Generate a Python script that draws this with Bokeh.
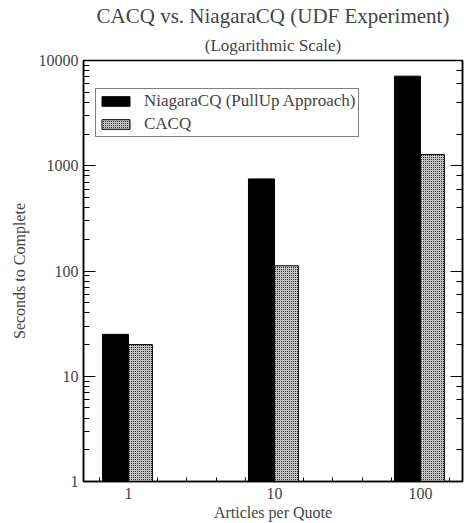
from bokeh.plotting import figure
from bokeh.models import (Range1d, LogAxis, FixedTicker, Title, Legend, LegendItem,
                          ColumnDataSource, CustomJSTickFormatter)
from bokeh.transform import dodge
from bokeh.embed import file_html
from bokeh.resources import INLINE

# ---- data ----
categories = ["1", "10", "100"]
niagara = [25, 750, 7100]
cacq = [20, 112, 1280]
series_names = ["NiagaraCQ (PullUp Approach)", "CACQ"]

xs = list(range(1, len(categories) + 1))
src = ColumnDataSource(dict(x=xs, niagara=niagara, cacq=cacq, cat=categories))

FONT = "Liberation Serif"

p = figure(width=464, height=523, output_backend="svg", toolbar_location=None,
           title=None, y_axis_type="log",
           x_range=Range1d(0.692, 3.288), y_range=Range1d(1, 10000),
           min_border_left=83, min_border_right=2, min_border_top=60,
           min_border_bottom=42)
p.background_fill_color = "white"
p.border_fill_color = "white"
p.outline_line_color = "black"
p.outline_line_width = 1.5
p.xgrid.visible = False
p.ygrid.visible = False

r1 = p.vbar(x=dodge("x", -0.089, range=p.x_range), top="niagara", bottom=1,
            width=0.178, source=src, fill_color="black", line_color="black",
            line_width=1)
r2 = p.vbar(x=dodge("x", 0.082, range=p.x_range), top="cacq", bottom=1,
            width=0.164, source=src, fill_color="#c4c4c4", line_color="black",
            line_width=1, hatch_pattern="dot", hatch_color="black",
            hatch_scale=2, hatch_weight=1)

# left axis
ya = p.yaxis[0]
ya.formatter = CustomJSTickFormatter(code="return tick.toFixed(0)")
ya.axis_label = "Seconds to Complete"
ya.axis_label_text_font = FONT
ya.axis_label_text_font_size = "16px"
ya.axis_label_text_font_style = "normal"
ya.axis_label_standoff = 8
ya.major_label_text_font = FONT
ya.major_label_text_font_size = "16px"
ya.major_label_standoff = 5
ya.major_tick_in = 12
ya.major_tick_out = 0
ya.minor_tick_in = 6
ya.minor_tick_out = 0
ya.axis_line_width = 1.5
ya.major_tick_line_width = 1
ya.minor_tick_line_width = 1

# right axis (ticks only)
ra = LogAxis(formatter=CustomJSTickFormatter(code="return ''"))
ra.major_label_text_font_size = "0px"
ra.major_label_standoff = 0
ra.major_tick_in = 12
ra.major_tick_out = 0
ra.minor_tick_in = 6
ra.minor_tick_out = 0
ra.axis_line_width = 1.5
p.add_layout(ra, "right")

# bottom axis
xa = p.xaxis[0]
minor = [x + k * 0.2 for x in [0] + xs for k in range(1, 5)] + [x for x in xs]
xa.ticker = FixedTicker(ticks=xs, minor_ticks=sorted(set(minor)))
xa.major_label_overrides = {x: c for x, c in zip(xs, categories)}
xa.axis_label = "Articles per Quote"
xa.axis_label_text_font = FONT
xa.axis_label_text_font_size = "16px"
xa.axis_label_text_font_style = "normal"
xa.axis_label_standoff = 2
xa.major_label_text_font = FONT
xa.major_label_text_font_size = "16px"
xa.major_label_standoff = 6
xa.major_tick_in = 6
xa.major_tick_out = 0
xa.minor_tick_in = 4
xa.minor_tick_out = 0
xa.axis_line_width = 1.5

# legend
legend = Legend(items=[LegendItem(label=series_names[0], renderers=[r1]),
                       LegendItem(label=series_names[1], renderers=[r2])],
                location=(12, 344))
legend.glyph_width = 35
legend.glyph_height = 12
legend.label_height = 20
legend.spacing = 3
legend.padding = 2
legend.margin = 0
legend.label_standoff = 11
legend.border_line_color = "black"
legend.border_line_width = 1
legend.label_text_font = FONT
legend.label_text_font_size = "17px"
p.add_layout(legend)

# titles
p.add_layout(Title(text="(Logarithmic Scale)", align="center", text_font=FONT,
                   text_font_size="17px", text_font_style="normal", standoff=12),
             "above")
p.add_layout(Title(text="CACQ vs. NiagaraCQ (UDF Experiment)", align="center",
                   text_font=FONT, text_font_size="21px", text_font_style="normal",
                   standoff=0), "above")

open("out.html", "w").write(file_html(p, INLINE))
